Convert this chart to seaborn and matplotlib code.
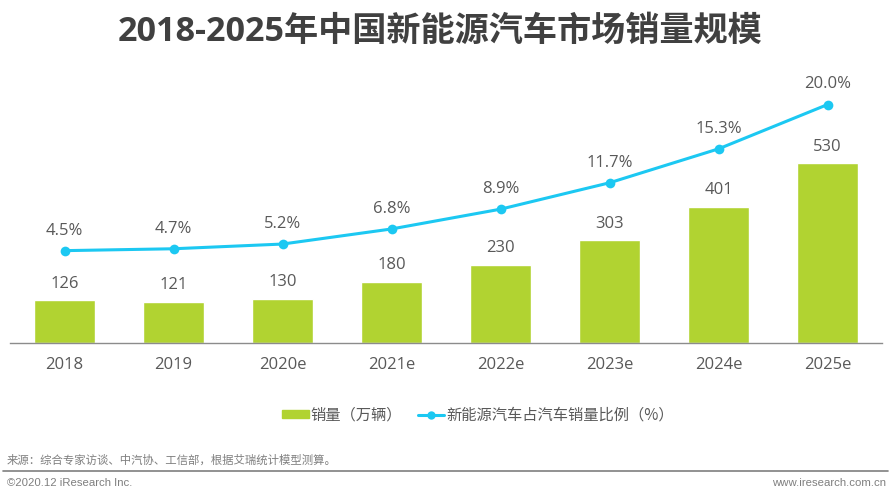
import numpy as np
import pandas as pd
import matplotlib
matplotlib.use('Agg')
import matplotlib.pyplot as plt
import seaborn as sns
from matplotlib.lines import Line2D
from matplotlib.patches import Patch

# Data
years = ['2018', '2019', '2020e', '2021e', '2022e', '2023e', '2024e', '2025e']
sales = [126, 121, 130, 180, 230, 303, 401, 530]
share = [4.5, 4.7, 5.2, 6.8, 8.9, 11.7, 15.3, 20.0]

sns.set_style('white')
plt.rcParams['font.family'] = ['Open Sans', 'Noto Sans CJK SC', 'DejaVu Sans']

df = pd.DataFrame({'year': years, 'sales': sales, 'share': share, 'pos': np.arange(len(years))})

green = '#B1D331'
blue = '#1CC8F2'
text_col = '#595959'

fig = plt.figure(figsize=(8.9, 5), dpi=100)
ax = fig.add_axes([10 / 890, 1 - 343 / 500, 872 / 890, 283 / 500])

# Bars
sns.barplot(data=df, x='year', y='sales', color=green, saturation=1, width=0.56, ax=ax)
ax.set_xlim(-0.5, 7.5)
ax.set_ylim(0, 835)
ax.set_xlabel('')
ax.set_ylabel('')
ax.set_yticks([])
ax.tick_params(axis='x', length=0, labelsize=12, labelcolor=text_col, pad=10)
for s in ['top', 'left', 'right']:
    ax.spines[s].set_visible(False)
ax.spines['bottom'].set_color('#8C8C8C')
ax.spines['bottom'].set_linewidth(1.0)

for i, v in enumerate(sales):
    ax.annotate(str(v), (i, v), xytext=(0, 12), textcoords='offset points',
                ha='center', va='center', fontsize=12, color=text_col)

# Share line on its own axis
ax2 = ax.twinx()
sns.lineplot(data=df, x='pos', y='share', color=blue, linewidth=2.2, marker='o',
             markersize=7, markeredgewidth=0, ax=ax2)
ax2.set_xlim(-0.5, 7.5)
ax2.set_ylim(-5.3, 24.73)
ax2.set_xlabel('')
ax2.set_ylabel('')
ax2.set_yticks([])
for s in ax2.spines.values():
    s.set_visible(False)

for i, v in enumerate(share):
    ax2.annotate(f'{v:.1f}%', (i, v), xytext=(0, 14.5), textcoords='offset points',
                 ha='center', va='center', fontsize=12, color=text_col)

# Title
fig.text(440 / 890, 1 - 31.5 / 500, '2018-2025年中国新能源汽车市场销量规模', ha='center', va='center',
         fontsize=24.6, fontweight='bold', color='#404040')

# Legend
handles = [Patch(color=green, label='销量（万辆）'),
           Line2D([0], [0], color=blue, lw=2.2, marker='o', markersize=6, markeredgewidth=0,
                  label='新能源汽车占汽车销量比例（%）')]
leg = fig.legend(handles=handles, loc='center', bbox_to_anchor=(478 / 890, 1 - 415 / 500), ncol=2,
                 frameon=False, prop={'family': ['Noto Sans CJK SC', 'DejaVu Sans'], 'size': 11},
                 handlelength=1.75, handleheight=0.5, columnspacing=1.0, handletextpad=0.15)
for t in leg.get_texts():
    t.set_color(text_col)

# Source and footer
fig.text(7 / 890, 1 - 461.5 / 500, '来源：综合专家访谈、中汽协、工信部，根据艾瑞统计模型测算。', ha='left', va='center',
         fontsize=8.2, color='#7F7F7F')
fig.add_artist(Line2D([3 / 890, 888 / 890], [1 - 470.5 / 500] * 2, color='#7F7F7F', lw=1.2))
fig.text(7 / 890, 1 - 482.5 / 500, '©2020.12 iResearch Inc.', ha='left', va='center',
         fontsize=8.2, color='#7F7F7F', family=['Liberation Sans'])
fig.text(886 / 890, 1 - 482.5 / 500, 'www.iresearch.com.cn', ha='right', va='center',
         fontsize=8.2, color='#7F7F7F', family=['Liberation Sans'])

fig.savefig('out.png', dpi=100)
